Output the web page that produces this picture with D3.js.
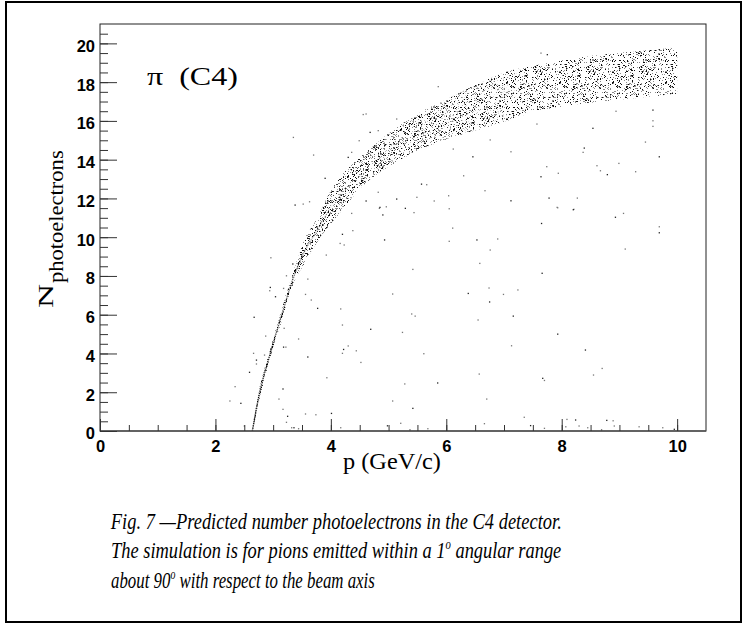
<!doctype html>
<html lang="en">
  <head>
    <meta charset="utf-8">
    <title>Predicted photoelectrons, C4</title>
    <style>
      body { margin: 0; background: #fff; }
      svg { display: block; }
    </style>
  </head>
  <body>
    <script src="https://d3js.org/d3.v7.min.js"></script>
    <script>
      // band envelope (p in GeV/c, N photoelectrons)
      var bandP     = [2.64, 2.75, 2.95, 3.15, 3.35, 3.55, 3.75, 4.0, 4.25, 4.5, 4.75, 5.0, 5.5, 6.0, 6.5, 7.0, 7.5, 8.0, 8.5, 9.0, 9.5, 10.0];
      var bandUpper = [0, 2.0, 4.2, 6.3, 8.2, 9.9, 10.9, 12.4, 13.4, 14.1, 14.75, 15.35, 16.35, 17.1, 17.85, 18.5, 18.85, 19.1, 19.35, 19.5, 19.65, 19.8];
      var bandLower = [0, 1.5, 3.8, 5.7, 7.6, 8.7, 9.7, 10.7, 11.6, 12.5, 13.15, 13.65, 14.45, 15.05, 15.5, 15.95, 16.45, 16.75, 16.95, 17.1, 17.25, 17.4];

      // scattered entries outside the band
      var strayP = [3.38, 3.52, 3.63, 4.61, 4.84, 4.96, 4.90, 4.36, 4.38, 4.20, 4.16, 4.23, 4.93, 3.92, 2.96, 3.34, 3.60, 3.23, 2.95, 2.94,
                    3.18, 3.04, 3.56, 3.66, 3.77, 4.17, 5.07, 2.67, 3.19, 4.20, 4.69, 2.87, 3.44, 3.18, 3.22, 4.30, 4.22, 4.44, 4.20, 3.60,
                    2.66, 2.85, 2.71, 2.71, 4.52, 2.59, 3.93, 2.34, 3.17, 3.10, 2.25, 2.44, 5.07, 3.17, 3.25, 3.56, 3.74, 4.01, 3.23, 3.32,
                    3.36, 3.44, 4.17, 4.98, 2.50,
                    5.79, 5.29, 5.44, 6.05, 7.12, 7.92, 8.21, 8.93, 9.07, 9.69, 9.69, 6.11, 6.05, 6.53, 6.89, 6.76, 7.65, 6.58, 5.42, 7.66,
                    9.10, 6.74, 6.38, 6.99, 7.24, 6.75, 5.40, 5.46, 7.16, 6.55, 5.24, 7.93, 5.61, 7.13, 8.41, 8.70, 8.55, 7.67, 7.70, 6.57,
                    5.85, 5.28, 6.70, 5.42, 7.35, 5.21, 5.37, 5.68, 6.66, 7.46, 7.70, 8.09, 8.24, 8.30, 8.45, 8.78, 8.89, 8.91, 8.69, 9.34,
                    9.75, 9.95, 8.07,
                    7.64, 7.75, 7.57, 8.94, 9.58, 9.58, 9.58, 8.54, 6.76, 7.12, 8.39, 8.37, 9.45, 9.69, 7.74, 7.94, 7.64, 8.61, 8.67, 8.79,
                    8.99, 9.28, 7.78, 8.27, 7.93, 8.20,
                    3.35, 3.70, 3.90, 4.61, 4.56, 4.68, 4.82, 4.49, 4.30, 4.36, 5.14, 5.57, 5.66, 4.82, 5.14, 5.49, 6.04, 4.85, 6.30, 6.67,
                    6.46, 6.12, 5.86];
      var strayN = [11.66, 11.71, 11.83, 11.87, 11.49, 11.57, 11.15, 11.23, 10.34, 10.15, 9.68, 9.6, 9.86, 9.08, 8.94, 8.62, 7.84, 8.01, 7.41, 7.24,
                    7.36, 6.93, 7.05, 6.76, 6.33, 6.3, 7.07, 5.87, 5.3, 5.47, 5.25, 4.9, 4.75, 4.33, 4.33, 4.39, 4.21, 4.14, 4.01, 3.82,
                    4.01, 3.92, 3.66, 3.46, 3.54, 3.03, 2.75, 2.29, 2.17, 1.65, 1.55, 1.43, 1.55, 1.12, 0.76, 0.88, 0.84, 0.91, 0.45, 0.17,
                    0.17, 0.12, 0.17, 0.27, 0.26,
                    11.87, 11.49, 11.27, 11.47, 11.88, 11.54, 11.44, 11.03, 11.23, 10.54, 10.23, 10.47, 9.79, 9.86, 9.91, 9.34, 10.71, 8.65, 8.34, 8.14,
                    9.39, 7.38, 7.10, 7.05, 7.28, 6.66, 6.04, 5.93, 5.93, 5.73, 5.09, 5.0, 3.99, 4.40, 4.18, 3.23, 2.89, 2.72, 2.61, 2.94,
                    2.48, 2.43, 1.65, 1.17, 0.71, 0.40, 0.05, 0.12, 0.38, 0.28, 0.14, 0.6, 0.57, 0.26, 0.17, 0.55, 0.53, 0.26, 0.05, 0.22,
                    0.17, 0.09, 0.22,
                    19.5, 19.42, 15.84, 16.5, 16.56, 16.01, 15.72, 15.62, 15.02, 14.41, 14.6, 14.38, 14.91, 14.15, 13.64, 13.3, 13.12, 13.69, 13.43, 13.23,
                    13.81, 13.38, 12.02, 12.02, 11.52, 11.42,
                    15.15, 14.24, 13.04, 16.36, 16.33, 15.41, 15.5, 14.98, 14.12, 14.38, 16.1, 12.74, 12.71, 12.32, 11.97, 12.06, 12.14, 11.54, 13.17, 12.4,
                    14.15, 14.55, 17.77];

      var xTicks = [0, 2, 4, 6, 8, 10];
      var yTicks = [0, 2, 4, 6, 8, 10, 12, 14, 16, 18, 20];

      var W = 743, H = 625;
      var plotLeft = 100, plotRight = 706, plotTop = 24, plotBottom = 431;

      var svg = d3.select('body').append('svg')
          .attr('width', W)
          .attr('height', H);

      var x = d3.scaleLinear().domain([0, 10.5]).range([plotLeft, plotRight]);
      var y = d3.scaleLinear().domain([0, 21]).range([plotBottom, plotTop]);

      var defs = svg.append('defs');

      defs.append('clipPath').attr('id', 'plotclip')
        .append('rect')
          .attr('x', plotLeft).attr('y', plotTop)
          .attr('width', plotRight - plotLeft).attr('height', plotBottom - plotTop);

      // stipple textures for the dense band (pure fill style)
      function hash(i, j, s0) {
        var s = Math.sin(i * 12.9898 + j * 78.233 + s0) * 43758.5453;
        return s - Math.floor(s);
      }
      function stipple(id, w, h, seed, density, darkShare) {
        var pat = defs.append('pattern')
            .attr('id', id)
            .attr('patternUnits', 'userSpaceOnUse')
            .attr('width', w).attr('height', h);
        for (var i = 0; i < w; i++) {
          for (var j = 0; j < h; j++) {
            var v = hash(i, j, seed);
            if (v < density) {
              pat.append('rect')
                .attr('x', i).attr('y', j)
                .attr('width', 1).attr('height', 1)
                .attr('fill', v < density * darkShare ? '#111' : '#8c8c8c');
            }
          }
        }
      }
      stipple('stipple', 53, 47, 0, 0.21, 0.45);
      stipple('stipple2', 41, 37, 3.7, 0.12, 0.5);

      var fade = defs.append('linearGradient')
          .attr('id', 'fade')
          .attr('gradientUnits', 'userSpaceOnUse')
          .attr('x1', x(2.64)).attr('x2', x(4.1))
          .attr('y1', 0).attr('y2', 0);
      fade.append('stop').attr('offset', 0).attr('stop-color', '#000').attr('stop-opacity', 0.9);
      fade.append('stop').attr('offset', 0.55).attr('stop-color', '#000').attr('stop-opacity', 0.45);
      fade.append('stop').attr('offset', 1).attr('stop-color', '#000').attr('stop-opacity', 0);

      // narrow part of the band reads darker than the wide end
      var maskGrad = defs.append('linearGradient')
          .attr('id', 'maskGrad')
          .attr('gradientUnits', 'userSpaceOnUse')
          .attr('x1', x(3.2)).attr('x2', x(7.5))
          .attr('y1', 0).attr('y2', 0);
      maskGrad.append('stop').attr('offset', 0).attr('stop-color', '#fff');
      maskGrad.append('stop').attr('offset', 1).attr('stop-color', '#000');
      defs.append('mask')
          .attr('id', 'denseMask')
          .attr('maskUnits', 'userSpaceOnUse')
          .attr('x', 0).attr('y', 0).attr('width', W).attr('height', H)
        .append('rect')
          .attr('x', plotLeft).attr('y', plotTop)
          .attr('width', plotRight - plotLeft).attr('height', plotBottom - plotTop)
          .attr('fill', 'url(#maskGrad)');

      // outer frame of the figure
      svg.append('rect')
          .attr('x', 6).attr('y', 2)
          .attr('width', 735).attr('height', 620)
          .attr('fill', 'none')
          .attr('stroke', '#000')
          .attr('stroke-width', 2);

      var band = bandP.map(function(p, k) {
        return { p: p, lo: bandLower[k], hi: bandUpper[k] };
      });

      var plot = svg.append('g').attr('clip-path', 'url(#plotclip)');

      var area = d3.area()
          .x(function(d) { return x(d.p); })
          .y0(function(d) { return y(d.lo); })
          .y1(function(d) { return y(d.hi); })
          .curve(d3.curveMonotoneX);

      plot.append('path')
          .datum(band)
          .attr('d', area)
          .attr('fill', 'url(#stipple)');

      plot.append('path')
          .datum(band)
          .attr('d', area)
          .attr('fill', 'url(#stipple2)')
          .attr('mask', 'url(#denseMask)');

      var mid = d3.line()
          .x(function(d) { return x(d.p); })
          .y(function(d) { return y((d.lo + d.hi) / 2); })
          .curve(d3.curveMonotoneX);

      plot.append('path')
          .datum(band)
          .attr('d', mid)
          .attr('fill', 'none')
          .attr('stroke', 'url(#fade)')
          .attr('stroke-width', 1.4)
          .attr('stroke-dasharray', '1.5 0.7');

      plot.selectAll('.stray')
          .data(strayP)
          .enter().append('rect')
          .attr('class', 'stray')
          .attr('x', function(d) { return x(d) - 0.6; })
          .attr('y', function(d, k) { return y(strayN[k]) - 0.6; })
          .attr('width', 1.3)
          .attr('height', 1.3)
          .attr('fill', function(d, k) { return k % 3 === 0 ? '#222' : '#777'; });

      // frame
      svg.append('rect')
          .attr('x', plotLeft).attr('y', plotTop)
          .attr('width', plotRight - plotLeft).attr('height', plotBottom - plotTop)
          .attr('fill', 'none')
          .attr('stroke', '#222')
          .attr('stroke-width', 1);
      svg.append('line')
          .attr('x1', plotLeft).attr('x2', plotRight)
          .attr('y1', plotBottom).attr('y2', plotBottom)
          .attr('stroke', '#555')
          .attr('stroke-width', 1.6);

      // axes, ROOT style ticks pointing inward
      var tickFont = '"Liberation Sans", Arial, Helvetica, sans-serif';

      var xMinor = svg.append('g')
          .attr('transform', 'translate(0,' + plotBottom + ')')
          .call(d3.axisBottom(x).tickValues(d3.range(0, 10.01, 0.5)).tickSize(-6).tickFormat(''));
      var xMajor = svg.append('g')
          .attr('transform', 'translate(0,' + plotBottom + ')')
          .call(d3.axisBottom(x).tickValues(xTicks).tickSize(-12).tickPadding(9).tickFormat(d3.format('d')));

      var yMinor = svg.append('g')
          .attr('transform', 'translate(' + plotLeft + ',0)')
          .call(d3.axisLeft(y).tickValues(d3.range(0, 20.51, 0.5)).tickSize(-8).tickFormat(''));
      var yMajor = svg.append('g')
          .attr('transform', 'translate(' + plotLeft + ',0)')
          .call(d3.axisLeft(y).tickValues(yTicks).tickSize(-17).tickPadding(5).tickFormat(d3.format('d')));

      [xMinor, xMajor, yMinor, yMajor].forEach(function(g) {
        g.select('.domain').remove();
        g.selectAll('.tick line').attr('stroke', '#333').attr('stroke-width', 1);
        g.selectAll('.tick text')
          .attr('fill', '#000')
          .style('font-family', tickFont)
          .style('font-weight', 'bold')
          .style('font-size', '16.5px');
      });
      yMajor.selectAll('.tick text').attr('dy', '0.48em');

      // stretch a text horizontally to a measured width
      function fitWidth(sel, w) {
        var b = sel.node().getBBox();
        var k = w / b.width;
        sel.attr('transform', 'translate(' + b.x + ',0) scale(' + k + ',1) translate(' + (-b.x) + ',0)');
      }

      var serif = '"Liberation Serif", "Times New Roman", Times, serif';

      var xTitle = svg.append('text')
          .attr('x', 343).attr('y', 469)
          .style('font-family', serif)
          .style('font-size', '23px')
          .text('p (GeV/c)');
      fitWidth(xTitle, 98);

      var yTitle = svg.append('g')
          .attr('transform', 'translate(53,308) rotate(-90)');
      var nText = yTitle.append('text')
          .attr('x', 0).attr('y', 0)
          .style('font-family', serif)
          .style('font-size', '21px')
          .text('N');
      fitWidth(nText, 24);
      var subText = yTitle.append('text')
          .attr('x', 25).attr('y', 10)
          .style('font-family', serif)
          .style('font-size', '20px')
          .text('photoelectrons');
      fitWidth(subText, 133);

      var label = svg.append('text')
          .attr('x', 147).attr('y', 85)
          .style('font-family', serif)
          .style('font-size', '26px')
          .text('\u03c0\u00a0\u00a0(C4)');
      fitWidth(label, 91);

      // caption
      var capFont = '24px';
      var cap1 = svg.append('text')
          .attr('x', 111).attr('y', 529)
          .style('font-family', serif)
          .style('font-style', 'italic')
          .style('font-size', capFont)
          .text('Fig. 7 \u2014Predicted number photoelectrons in the C4 detector.');
      fitWidth(cap1, 452);

      var cap2 = svg.append('text')
          .attr('x', 111).attr('y', 558)
          .style('font-family', serif)
          .style('font-style', 'italic')
          .style('font-size', capFont);
      cap2.append('tspan').text('The simulation is for pions emitted within a 1');
      cap2.append('tspan').attr('dy', -9).style('font-size', '14px').text('o');
      cap2.append('tspan').attr('dy', 9).text(' angular range');
      fitWidth(cap2, 451);

      var cap3 = svg.append('text')
          .attr('x', 111).attr('y', 588)
          .style('font-family', serif)
          .style('font-style', 'italic')
          .style('font-size', capFont);
      cap3.append('tspan').text('about 90');
      cap3.append('tspan').attr('dy', -9).style('font-size', '14px').text('o');
      cap3.append('tspan').attr('dy', 9).text(' with respect to the beam axis');
      fitWidth(cap3, 264);
    </script>
  </body>
</html>
